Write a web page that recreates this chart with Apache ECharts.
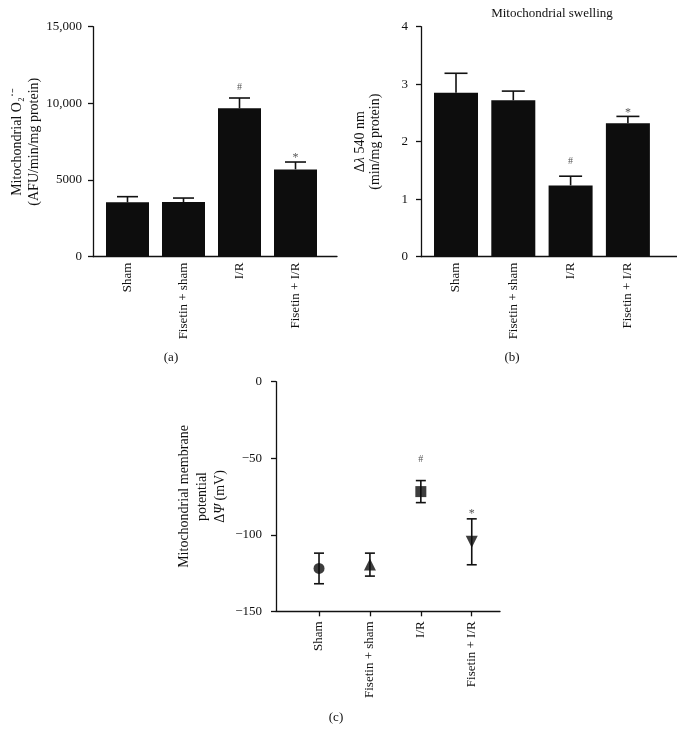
<!DOCTYPE html>
<html>
<head>
<meta charset="utf-8">
<script src="https://cdn.jsdelivr.net/npm/echarts/dist/echarts.min.js"></script>
<style>
html,body{margin:0;padding:0;background:#fff;}
#chart{width:677px;height:744px;}
</style>
</head>
<body>
<div id="chart"></div>
<script>
// ---- data ----
const categories = ['Sham', 'Fisetin + sham', 'I/R', 'Fisetin + I/R'];

const o2Mean = [3545, 3565, 9675, 5695];
const o2Err = [370, 260, 675, 480];
const o2Marks = ['', '', '#', '*'];
const o2Ticks = ['0', '5000', '10,000', '15,000'];

const swellMean = [2.85, 2.72, 1.24, 2.32];
const swellErr = [0.34, 0.16, 0.16, 0.12];
const swellMarks = ['', '', '#', '*'];
const swellTicks = ['0', '1', '2', '3', '4'];

const mmpMean = [-122, -119.5, -71.8, -104.6];
const mmpErr = [10, 7.5, 7.2, 15];
const mmpMarks = ['', '', '#', '*'];
const mmpTicks = ['\u2212150', '\u2212100', '\u221250', '0'];

// ---- styles ----
const FONT = 'Liberation Serif';
const INK = '#111';
const markerStyles = [
  { symbol: 'circle', symbolSize: 11, symbolRotate: 0 },
  { symbol: 'triangle', symbolSize: 12, symbolRotate: 0 },
  { symbol: 'rect', symbolSize: 11, symbolRotate: 0 },
  { symbol: 'triangle', symbolSize: 12, symbolRotate: 180 }
];

function tickFormatter(ticks, min, interval) {
  return v => ticks[Math.round((v - min) / interval)];
}

function xAxisCfg(gridIndex, min, max, withTicks, margin) {
  return {
    type: 'value', gridIndex, min, max,
    splitLine: { show: false },
    axisLine: { show: true, onZero: false, lineStyle: { color: INK, width: 1.3 } },
    axisTick: { show: withTicks, customValues: [0, 1, 2, 3], length: 5, lineStyle: { color: INK, width: 1.3 } },
    axisLabel: {
      customValues: [0, 1, 2, 3], rotate: 90, margin,
      fontFamily: FONT, fontSize: 13, color: '#111',
      formatter: v => categories[Math.round(v)]
    }
  };
}

function yAxisCfg(gridIndex, min, max, interval, ticks, labelMargin, name, nameGap, rich) {
  return {
    type: 'value', gridIndex, min, max, interval,
    splitLine: { show: false },
    axisLine: { show: true, onZero: false, lineStyle: { color: INK, width: 1.3 } },
    axisTick: { show: true, length: 5, lineStyle: { color: INK, width: 1.3 } },
    axisLabel: { fontFamily: FONT, fontSize: 13, color: '#111', margin: labelMargin, formatter: tickFormatter(ticks, min, interval) },
    name, nameLocation: 'middle', nameRotate: 90, nameGap,
    nameTextStyle: { fontFamily: FONT, fontSize: 14, color: '#111', lineHeight: 17, rich }
  };
}

function errSeries(idx, means, errs, marks, cap, both, hashGap, starGap) {
  return {
    type: 'custom', xAxisIndex: idx, yAxisIndex: idx, z: 5,
    data: means.map((m, i) => [i, m, errs[i]]),
    renderItem: (params, api) => {
      const x = api.value(0), m = api.value(1), e = api.value(2);
      const top = api.coord([x, m + e]);
      const mid = api.coord([x, m]);
      const bot = api.coord([x, m - e]);
      const hw = cap / 2;
      const st = { stroke: INK, lineWidth: 1.6 };
      const children = [
        { type: 'line', shape: { x1: top[0], y1: top[1], x2: top[0], y2: both ? bot[1] : mid[1] }, style: st },
        { type: 'line', shape: { x1: top[0] - hw, y1: top[1], x2: top[0] + hw, y2: top[1] }, style: st }
      ];
      if (both) {
        children.push({ type: 'line', shape: { x1: bot[0] - hw, y1: bot[1], x2: bot[0] + hw, y2: bot[1] }, style: st });
      }
      const mk = marks[params.dataIndex];
      if (mk) {
        const gap = mk === '#' ? hashGap : starGap;
        children.push({
          type: 'text',
          style: {
            text: mk, x: top[0], y: top[1] - gap,
            align: 'center', verticalAlign: 'bottom',
            fontFamily: FONT, fontSize: mk === '#' ? 10 : 12, fill: '#555'
          }
        });
      }
      return { type: 'group', children };
    }
  };
}

const chart = echarts.init(document.getElementById('chart'), null, { renderer: 'canvas' });

chart.setOption({
  animation: false,
  backgroundColor: '#fff',
  grid: [
    { left: 93, top: 26.7, width: 244, height: 230 },
    { left: 421, top: 26.7, width: 256, height: 230 },
    { left: 276, top: 381.7, width: 224, height: 229.6 }
  ],
  xAxis: [
    xAxisCfg(0, -0.616, 3.741, false, 6),
    xAxisCfg(1, -0.611, 3.857, false, 6),
    xAxisCfg(2, -0.845, 3.555, true, 10)
  ],
  yAxis: [
    yAxisCfg(0, 0, 15000, 5000, o2Ticks, 11,
      'Mitochondrial O\u2082\u02D9\u207B\n(AFU/min/mg protein)', 50, {}),
    yAxisCfg(1, 0, 4, 1, swellTicks, 13,
      '{n|\u0394}{i|\u03BB}{n| 540 nm}\n{n|(min/mg protein)}', 38,
      { n: { fontFamily: FONT, fontSize: 14, color: '#111', lineHeight: 15 },
        i: { fontFamily: FONT, fontSize: 14, color: '#111', fontStyle: 'italic', lineHeight: 15 } }),
    yAxisCfg(2, -150, 0, 50, mmpTicks, 14,
      '{n|Mitochondrial membrane}\n{n|potential}\n{n|\u0394}{i|\u03A8}{n| (mV)}', 47,
      { n: { fontFamily: FONT, fontSize: 14, color: '#111', lineHeight: 18 },
        i: { fontFamily: FONT, fontSize: 14, color: '#111', fontStyle: 'italic', lineHeight: 18 } })
  ],
  graphic: [
    { type: 'text', x: 171, y: 358, style: { text: '(a)', align: 'center', verticalAlign: 'middle', fontFamily: FONT, fontSize: 13, fill: '#111' } },
    { type: 'text', x: 512, y: 358, style: { text: '(b)', align: 'center', verticalAlign: 'middle', fontFamily: FONT, fontSize: 13, fill: '#111' } },
    { type: 'text', x: 336, y: 718, style: { text: '(c)', align: 'center', verticalAlign: 'middle', fontFamily: FONT, fontSize: 13, fill: '#111' } },
    { type: 'text', x: 552, y: 14, style: { text: 'Mitochondrial swelling', align: 'center', verticalAlign: 'middle', fontFamily: FONT, fontSize: 13, fill: '#111' } }
  ],
  series: [
    { type: 'bar', xAxisIndex: 0, yAxisIndex: 0, barWidth: 43, itemStyle: { color: '#0d0d0d' },
      data: o2Mean.map((m, i) => [i, m]) },
    errSeries(0, o2Mean, o2Err, o2Marks, 21, false, 6, -2),
    { type: 'bar', xAxisIndex: 1, yAxisIndex: 1, barWidth: 44, itemStyle: { color: '#0d0d0d' },
      data: swellMean.map((m, i) => [i, m]) },
    errSeries(1, swellMean, swellErr, swellMarks, 23, false, 10, -2),
    errSeries(2, mmpMean, mmpErr, mmpMarks, 10, true, 16, -1),
    { type: 'scatter', xAxisIndex: 2, yAxisIndex: 2, z: 6, itemStyle: { color: '#0d0d0d' },
      data: mmpMean.map((m, i) => Object.assign({ value: [i, m] }, markerStyles[i])) }
  ]
});
</script>
</body>
</html>
